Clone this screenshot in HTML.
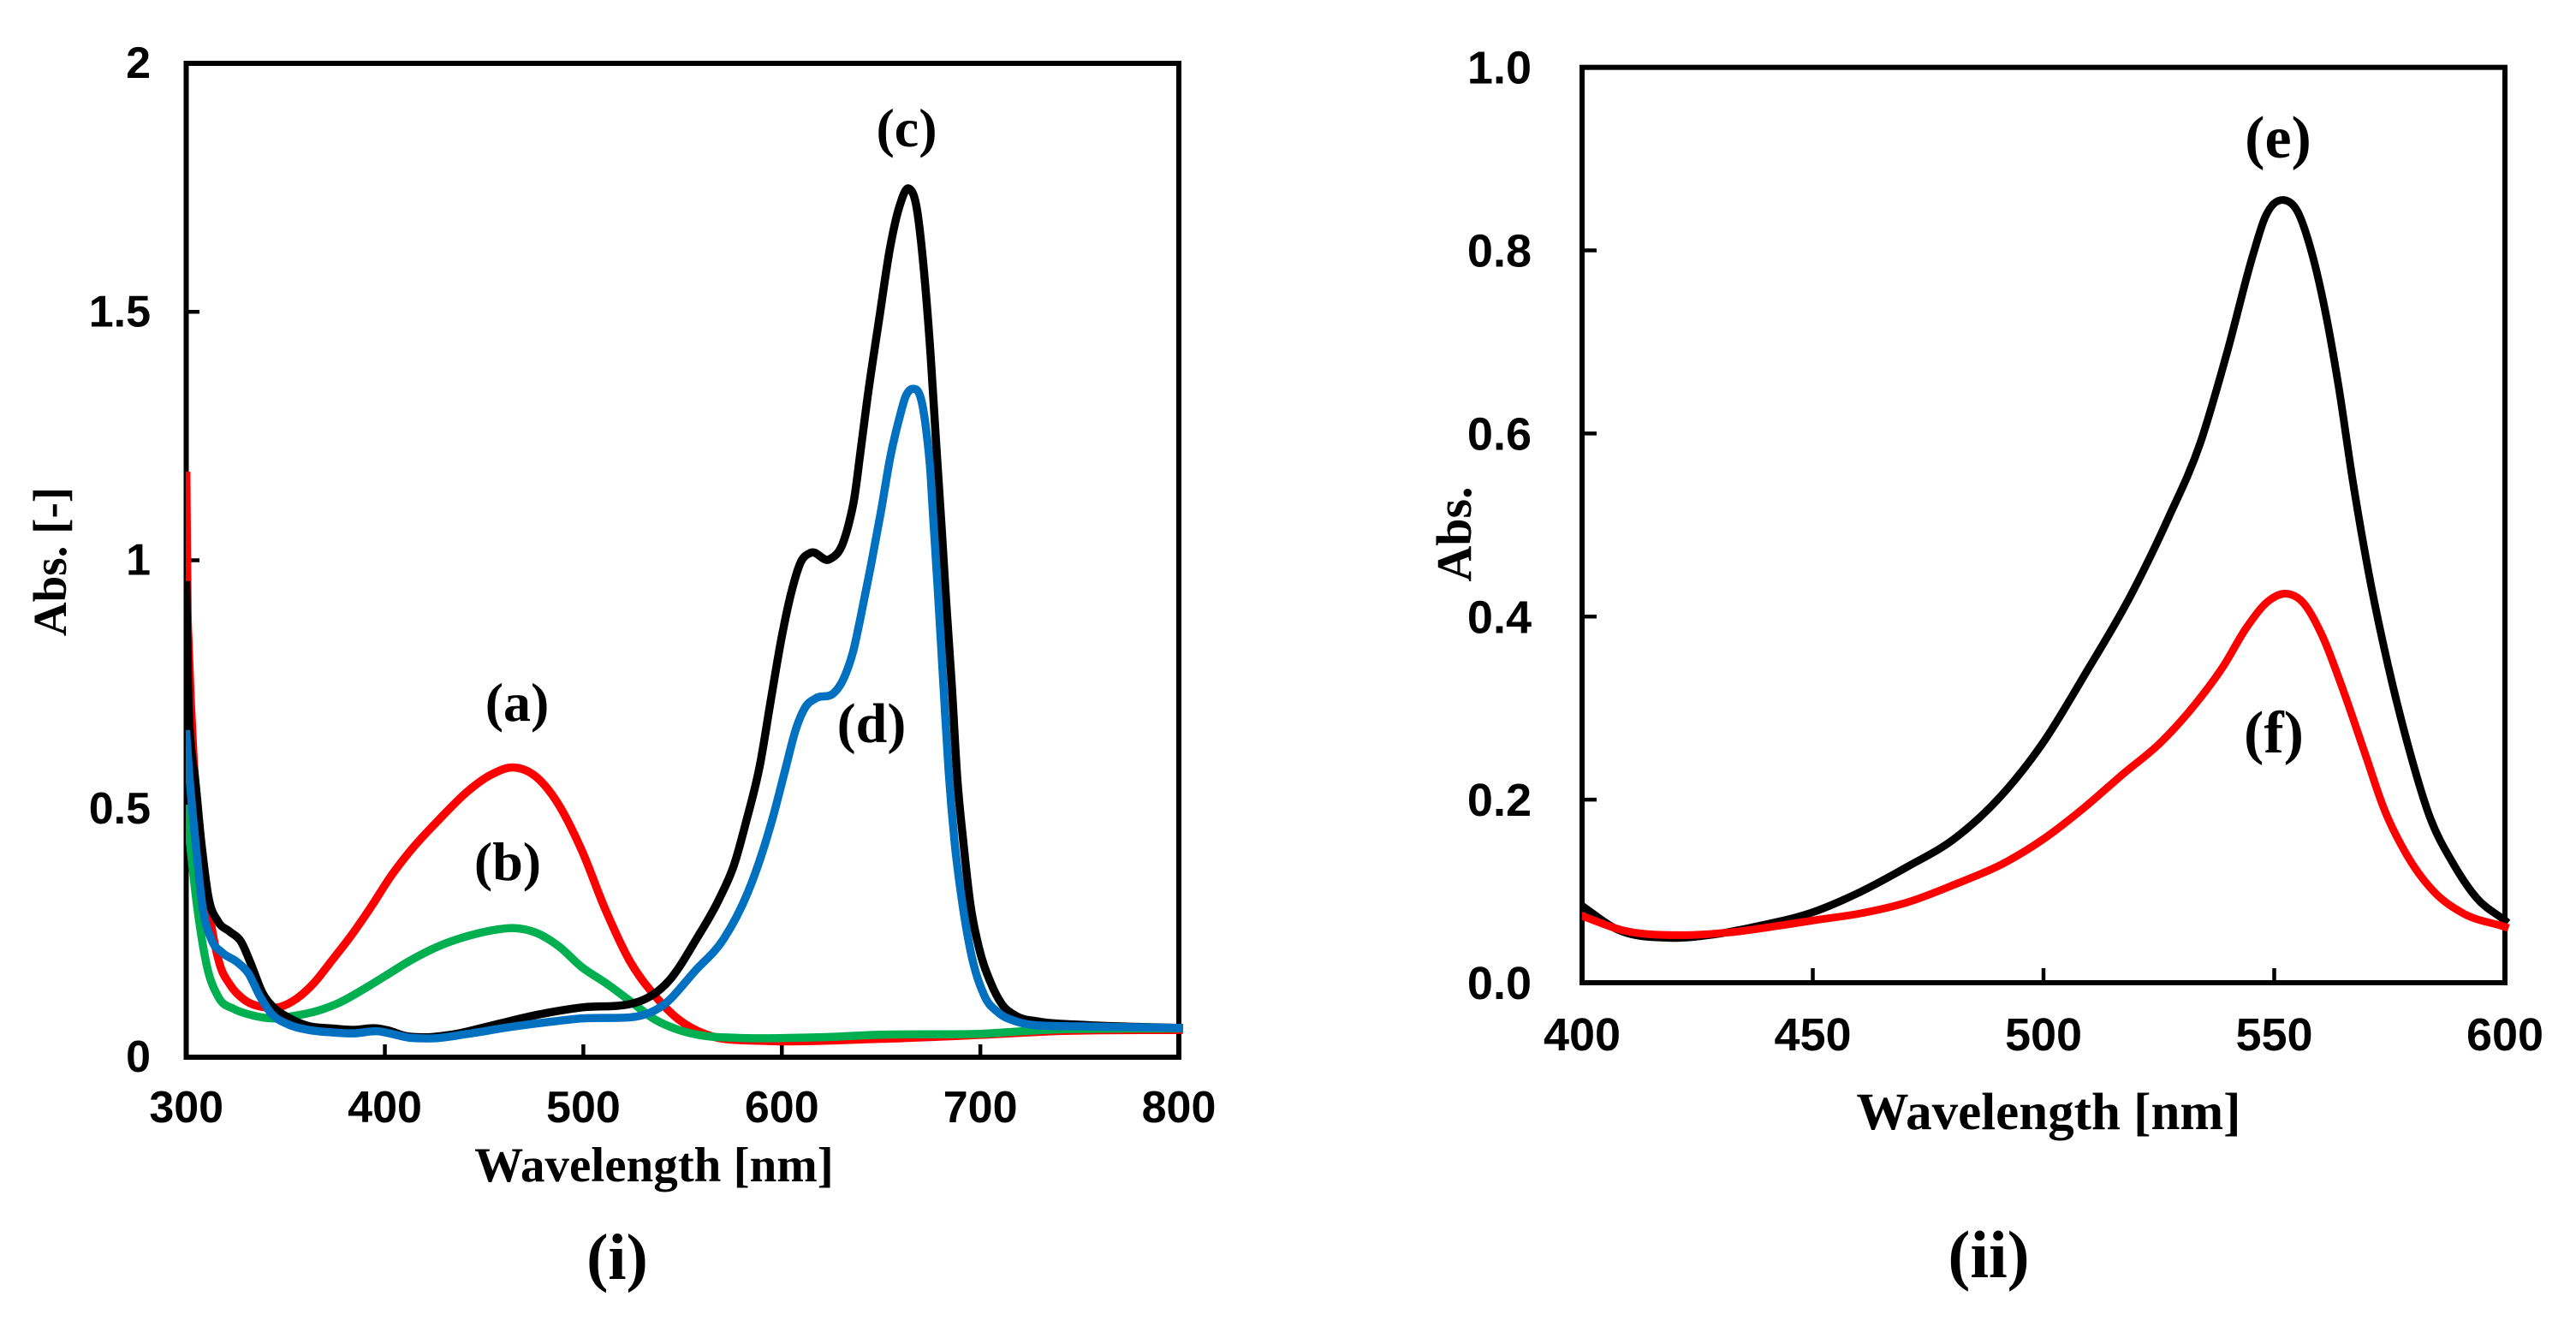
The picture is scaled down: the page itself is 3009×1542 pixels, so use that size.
<!DOCTYPE html>
<html lang="en">
<head>
<meta charset="utf-8">
<title>Absorbance spectra</title>
<style>
html,body{margin:0;padding:0;background:#fff;width:3009px;height:1542px;overflow:hidden}
svg{display:block}
.tick{font-family:"Liberation Sans",Arial,sans-serif;font-weight:700;fill:#000}
.serif{font-family:"Liberation Serif","Times New Roman",serif;font-weight:700;fill:#000}
</style>
</head>
<body>
<svg id="figure" xmlns="http://www.w3.org/2000/svg" width="3009" height="1542" viewBox="0 0 3009 1542">
  <defs>
    <clipPath id="clip-one"><rect x="217" y="0" width="2500" height="1542"></rect></clipPath>
    <clipPath id="clip-two"><rect x="1848" y="0" width="1161" height="1542"></rect></clipPath>
  </defs>
  <rect x="0" y="0" width="3009" height="1542" fill="#ffffff"></rect>

  <g id="panel-one">
    <g id="one-ticks"></g>
    <rect x="217.5" y="74" width="1159.5" height="1161" fill="none" stroke="#000" stroke-width="6"></rect>
    <g id="one-series" clip-path="url(#clip-one)"></g>
    <text class="serif" x="764" y="1380" font-size="57" text-anchor="middle">Wavelength [nm]</text>
    <text class="serif" x="0" y="0" font-size="55" text-anchor="middle" transform="translate(77 656) rotate(-90)">Abs. [-]</text>
    <text class="serif" x="604" y="842" font-size="64" text-anchor="middle">(a)</text>
    <text class="serif" x="593" y="1028" font-size="64" text-anchor="middle">(b)</text>
    <text class="serif" x="1059" y="171" font-size="64" text-anchor="middle">(c)</text>
    <text class="serif" x="1018" y="867" font-size="66" text-anchor="middle">(d)</text>
    <text class="serif" x="721" y="1494" font-size="76" text-anchor="middle">(i)</text>
  </g>

  <g id="panel-two">
    <g id="two-ticks"></g>
    <rect x="1848" y="78.7" width="1078" height="1069.3" fill="none" stroke="#000" stroke-width="6"></rect>
    <g id="two-series" clip-path="url(#clip-two)"></g>
    <text class="serif" x="2393" y="1319" font-size="61" text-anchor="middle">Wavelength [nm]</text>
    <text class="serif" x="0" y="0" font-size="58" text-anchor="middle" transform="translate(1718 624) rotate(-90)">Abs.</text>
    <text class="serif" x="2661" y="184" font-size="70" text-anchor="middle">(e)</text>
    <text class="serif" x="2656" y="879" font-size="70" text-anchor="middle">(f)</text>
    <text class="serif" x="2323" y="1492" font-size="78" text-anchor="middle">(ii)</text>
  </g>
</svg>

<script>
// Panel (i) tick labels
const oneXTicks = [300, 400, 500, 600, 700, 800];
const oneYTicks = [0, 0.5, 1, 1.5, 2];

// Panel (i) series a (red)
const redWave = [300, 300.6, 301.1, 303.6, 305.6, 309.6, 313, 316.8, 321.8, 328.4, 338.4, 347, 355.6, 364.2, 372.8, 382.9, 392.8, 403, 413, 427.5, 442, 453.3, 465, 476, 486.5, 499, 511, 523.6, 536, 548, 561, 569, 590, 650, 700, 742, 800];
const redAbs = [1.17, 0.9, 0.835, 0.606, 0.49, 0.347, 0.255, 0.187, 0.147, 0.118, 0.101, 0.101, 0.118, 0.149, 0.192, 0.244, 0.301, 0.364, 0.416, 0.479, 0.536, 0.568, 0.583, 0.565, 0.515, 0.418, 0.298, 0.192, 0.124, 0.076, 0.047, 0.038, 0.033, 0.037, 0.045, 0.053, 0.055];

// Panel (i) series b (green)
const greenWave = [300, 301, 305.3, 310.3, 316, 324, 332.6, 344, 354, 365.8, 377.2, 388.5, 400, 413, 427.5, 442, 456.6, 464.3, 476.5, 488, 499, 511, 523.6, 536, 548, 561, 577, 618, 648, 700, 720, 740, 800];
const greenAbs = [0.5, 0.462, 0.307, 0.184, 0.122, 0.097, 0.085, 0.078, 0.083, 0.093, 0.11, 0.135, 0.163, 0.195, 0.224, 0.244, 0.257, 0.26, 0.25, 0.222, 0.182, 0.15, 0.113, 0.076, 0.055, 0.043, 0.039, 0.04, 0.045, 0.047, 0.052, 0.056, 0.058];

// Panel (i) series c (black)
const blackWave = [300, 300.7, 302.8, 303.9, 307.5, 311, 316, 321.8, 327.6, 332.6, 338.4, 344, 351.3, 361.3, 373, 384.3, 396, 401.5, 410, 420, 434.6, 456, 477.6, 499, 523.6, 544, 557, 568.5, 576, 582, 589, 594.5, 600, 605, 609.5, 614.5, 624, 631, 633.5, 636.5, 639.5, 643, 649, 654.7, 659, 664, 667.7, 672, 675, 677.7, 680.6, 682.7, 685.6, 688.4, 691.4, 695, 699.3, 705, 710.8, 718, 729, 752, 800];
const blackAbs = [0.95, 0.78, 0.606, 0.577, 0.433, 0.325, 0.273, 0.253, 0.232, 0.187, 0.129, 0.1, 0.08, 0.063, 0.058, 0.055, 0.058, 0.054, 0.043, 0.04, 0.046, 0.066, 0.086, 0.1, 0.107, 0.158, 0.238, 0.319, 0.388, 0.474, 0.589, 0.72, 0.847, 0.939, 0.996, 1.015, 1.002, 1.037, 1.07, 1.125, 1.215, 1.323, 1.485, 1.633, 1.709, 1.748, 1.714, 1.564, 1.409, 1.237, 1.059, 0.922, 0.749, 0.56, 0.434, 0.307, 0.22, 0.152, 0.107, 0.083, 0.072, 0.065, 0.059];

// Panel (i) series d (blue)
const blueWave = [300, 301.3, 304.6, 308.2, 312.5, 318.2, 325.4, 331.2, 337, 342.8, 351.3, 361.3, 373, 384, 397, 404.5, 413, 424.7, 441.8, 463.6, 485, 499, 523, 540, 556.6, 570.7, 582.8, 590, 595.7, 601.6, 607.3, 611.6, 617, 625.9, 631.7, 636, 640, 644.8, 650, 654.7, 659, 662.4, 666, 669.7, 672.6, 674.8, 676.3, 678.4, 681.4, 684, 687, 690.6, 695, 702, 709, 718, 729, 752, 800];
const blueAbs = [0.65, 0.577, 0.433, 0.301, 0.238, 0.21, 0.192, 0.169, 0.123, 0.088, 0.066, 0.055, 0.05, 0.048, 0.052, 0.046, 0.039, 0.038, 0.047, 0.061, 0.072, 0.078, 0.08, 0.104, 0.175, 0.238, 0.331, 0.41, 0.486, 0.577, 0.663, 0.703, 0.722, 0.732, 0.767, 0.818, 0.892, 0.988, 1.1, 1.209, 1.283, 1.33, 1.345, 1.33, 1.266, 1.18, 1.082, 0.951, 0.749, 0.577, 0.434, 0.319, 0.215, 0.124, 0.09, 0.072, 0.064, 0.062, 0.059];

// Panel (ii) tick labels
const twoXTicks = [400, 450, 500, 550, 600];
const twoYTicks = ["0.0", "0.2", "0.4", "0.6", "0.8", "1.0"];

// Panel (ii) series e (black)
const peakBlackWave = [400, 407.3, 419, 429, 437.3, 450, 459, 470.6, 480.6, 490.6, 500, 509, 519, 527, 534, 539.7, 545.5, 548, 552.2, 555, 558, 561, 564, 567, 570.5, 574.7, 578.8, 583.8, 588.8, 593.8, 600];
const peakBlackAbs = [0.084, 0.059, 0.049, 0.053, 0.061, 0.077, 0.096, 0.127, 0.157, 0.203, 0.263, 0.337, 0.424, 0.507, 0.59, 0.687, 0.797, 0.836, 0.855, 0.843, 0.8, 0.735, 0.65, 0.549, 0.447, 0.346, 0.263, 0.18, 0.13, 0.093, 0.068];

// Panel (ii) series e end drop at the right edge
const peakTailWave = [599.99, 600];
const peakTailAbs = [0.07, 0.017];

// Panel (ii) series f (red)
const peakRedWave = [400, 409, 420.6, 432, 442.3, 450, 460.6, 470.6, 480.6, 492.3, 500, 509, 517, 525.5, 533, 539, 544, 549, 552.2, 556.3, 560.5, 564.7, 569.7, 573.8, 578.8, 584.7, 590.5, 600];
const peakRedAbs = [0.073, 0.057, 0.052, 0.055, 0.062, 0.068, 0.076, 0.088, 0.107, 0.133, 0.157, 0.192, 0.227, 0.263, 0.305, 0.346, 0.388, 0.418, 0.425, 0.415, 0.378, 0.323, 0.25, 0.19, 0.139, 0.099, 0.077, 0.061];

const NS = 'http://www.w3.org/2000/svg';

// Axis functions
function oneX(w) { return 217.7 + (w - 300) * 2.3186; }
function oneY(a) { return 1235 - a * 580.5; }
function twoX(w) { return 1848 + (w - 400) * 5.39; }
function twoY(a) { return 1148 - a * 1069.3; }

// Smooth cubic path through the mapped points (limited non-uniform Catmull-Rom)
function curvePath(wave, abs, fx, fy) {
  const xs = wave.map(fx);
  const ys = abs.map(fy);
  const n = xs.length;
  const d = [];
  for (let i = 0; i < n - 1; i++) {
    d.push((ys[i + 1] - ys[i]) / (xs[i + 1] - xs[i]));
  }
  const m = [d[0]];
  for (let i = 1; i < n - 1; i++) {
    const h0 = xs[i] - xs[i - 1];
    const h1 = xs[i + 1] - xs[i];
    let s = (h1 * d[i - 1] + h0 * d[i]) / (h0 + h1);
    if (d[i - 1] * d[i] > 0) {
      const limit = 3 * Math.min(Math.abs(d[i - 1]), Math.abs(d[i]));
      if (Math.abs(s) > limit) {
        s = Math.sign(s) * limit;
      }
    }
    m.push(s);
  }
  m.push(d[n - 2]);
  let path = 'M' + xs[0].toFixed(2) + ' ' + ys[0].toFixed(2);
  for (let i = 0; i < n - 1; i++) {
    const h = (xs[i + 1] - xs[i]) / 3;
    path += 'C' + (xs[i] + h).toFixed(2) + ' ' + (ys[i] + m[i] * h).toFixed(2) + ' ' +
      (xs[i + 1] - h).toFixed(2) + ' ' + (ys[i + 1] - m[i + 1] * h).toFixed(2) + ' ' +
      xs[i + 1].toFixed(2) + ' ' + ys[i + 1].toFixed(2);
  }
  return path;
}

function addSeries(parent, name, wave, abs, fx, fy, color, width) {
  const el = document.createElementNS(NS, 'path');
  
  
  el.setAttribute('d', curvePath(wave, abs, fx, fy));
  el.setAttribute('fill', 'none');
  el.setAttribute('stroke', color);
  el.setAttribute('stroke-width', width);
  el.setAttribute('stroke-linecap', 'square');
  el.setAttribute('stroke-linejoin', 'round');
  parent.appendChild(el);
}

function addTick(parent, name, x1, y1, x2, y2) {
  const el = document.createElementNS(NS, 'line');
  
  
  el.setAttribute('x1', x1);
  el.setAttribute('y1', y1);
  el.setAttribute('x2', x2);
  el.setAttribute('y2', y2);
  el.setAttribute('stroke', '#000');
  el.setAttribute('stroke-width', 4.5);
  parent.appendChild(el);
}

function addLabel(parent, name, x, y, size, anchor, content) {
  const el = document.createElementNS(NS, 'text');
  
  
  el.setAttribute('class', 'tick');
  el.setAttribute('x', x);
  el.setAttribute('y', y);
  el.setAttribute('font-size', size);
  el.setAttribute('text-anchor', anchor);
  el.textContent = content;
  parent.appendChild(el);
}

// Panel (i) ticks and labels
const oneTicks = document.getElementById('one-ticks');
oneXTicks.forEach(function (t) {
  if (t > 300 && t < 800) {
    addTick(oneTicks, 'x-tick-' + t, oneX(t), 1220, oneX(t), 1235);
  }
  addLabel(oneTicks, 'x-tick-label-' + t, oneX(t), 1311, 52, 'middle', String(t));
});
oneYTicks.forEach(function (t) {
  if (t > 0 && t < 2) {
    addTick(oneTicks, 'y-tick-' + t, 217.7, oneY(t), 233, oneY(t));
  }
  addLabel(oneTicks, 'y-tick-label-' + t, 176, oneY(t) + 17, 52, 'end', String(t));
});

// Panel (ii) ticks and labels
const twoTicks = document.getElementById('two-ticks');
twoXTicks.forEach(function (t) {
  if (t > 400 && t < 600) {
    addTick(twoTicks, 'x-tick-' + t, twoX(t), 1131, twoX(t), 1148);
  }
  addLabel(twoTicks, 'x-tick-label-' + t, twoX(t), 1227, 54, 'middle', String(t));
});
twoYTicks.forEach(function (t) {
  const v = parseFloat(t);
  if (v > 0 && v < 1) {
    addTick(twoTicks, 'y-tick-' + t, 1848, twoY(v), 1865, twoY(v));
  }
  addLabel(twoTicks, 'y-tick-label-' + t, 1789, twoY(v) + 19, 54, 'end', t);
});

// Series (left side clipped at the axis, as in the reference)
const oneSeries = document.getElementById('one-series');
addSeries(oneSeries, 'series-a-red', redWave, redAbs, oneX, oneY, '#FF0000', 9.5);
addSeries(oneSeries, 'series-b-green', greenWave, greenAbs, oneX, oneY, '#00B050', 9.5);
addSeries(oneSeries, 'series-c-black', blackWave, blackAbs, oneX, oneY, '#000000', 9.5);
addSeries(oneSeries, 'series-d-blue', blueWave, blueAbs, oneX, oneY, '#0070C0', 9.5);

const twoSeries = document.getElementById('two-series');
addSeries(twoSeries, 'series-e-black', peakBlackWave, peakBlackAbs, twoX, twoY, '#000000', 9);
addSeries(twoSeries, 'series-e-black-end', peakTailWave, peakTailAbs, twoX, twoY, '#000000', 6);
addSeries(twoSeries, 'series-f-red', peakRedWave, peakRedAbs, twoX, twoY, '#FF0000', 9);
</script>
</body>
</html>
